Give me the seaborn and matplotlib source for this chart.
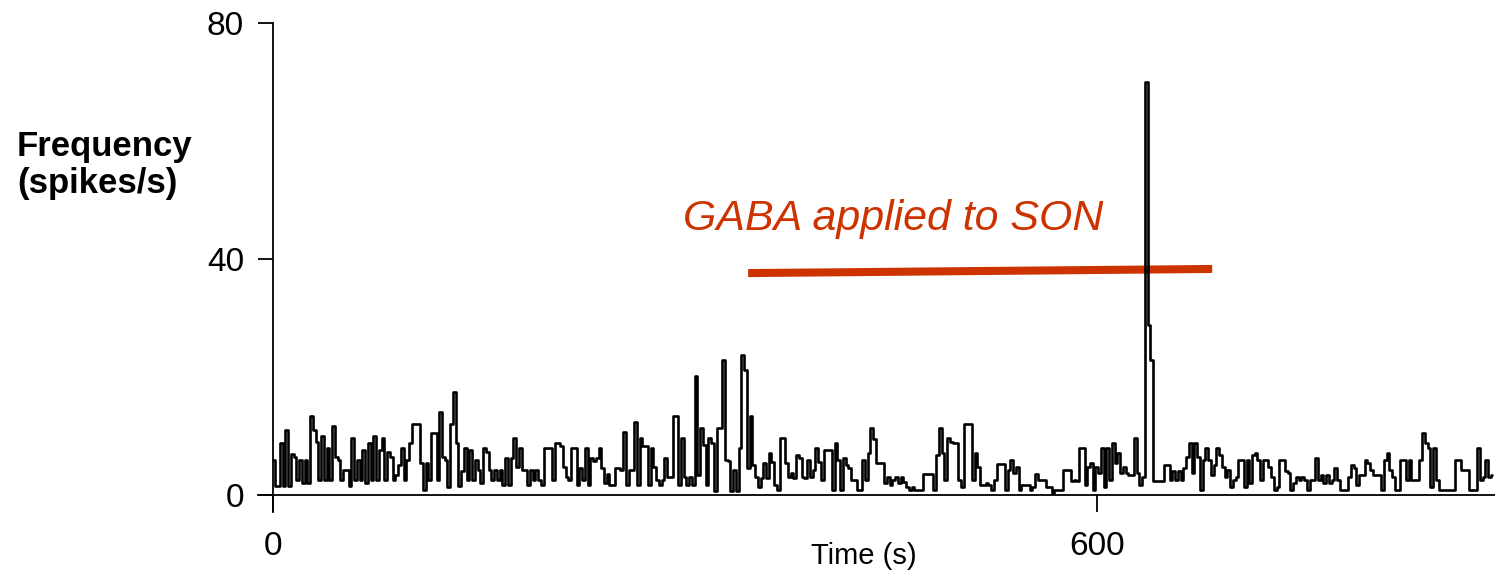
import numpy as np
import pandas as pd
import matplotlib
matplotlib.use("Agg")
import matplotlib.pyplot as plt
import seaborn as sns

# ---- data (spike frequency sampled every 2 s, t = 0 .. 888 s) ----
bin_width = 2
freq = [
    # 0-38
    6, 1.5, 1.5, 8.8, 1.5, 11, 1.5, 7, 6.5, 2.5, 6, 2, 6, 2, 13.3, 11, 9, 2.5, 9.9, 2.5,
    # 40-78
    8, 2.5, 11.7, 6.5, 6, 2.5, 4.2, 4.2, 1.5, 9.6, 2.5, 6, 2.5, 7.6, 2, 8.8, 2.5, 9.9, 2.5, 7.6,
    # 80-118
    9.6, 2.5, 7.3, 6.5, 2.5, 3.4, 5, 7.9, 2.5, 5.9, 8.8, 12.1, 12.1, 12.1, 5.4, 0.8, 5.4, 2.5, 10.5, 10.5,
    # 120-158
    2.5, 14, 6.5, 5.9, 1.4, 12, 17.5, 8.8, 1.5, 4, 7.9, 2.5, 7.6, 2.5, 5.9, 4.2, 2, 7.9, 7.3, 4.2,
    # 160-198
    2.5, 4.2, 2.5, 4.2, 1.7, 6.2, 1.7, 6.2, 9.6, 4.8, 7.9, 4.2, 4.2, 1.7, 4.2, 2.5, 4.2, 2.5, 1.7, 7.9,
    # 200-238
    7.9, 7.9, 2.5, 8.8, 8.8, 8.3, 4.8, 3, 2.5, 7.9, 7.9, 1.7, 4.5, 2.5, 7.9, 1.7, 6.2, 5.8, 6.2, 7.9,
    # 240-278
    4.5, 2, 3.5, 1.7, 1.7, 4.5, 4.5, 4.2, 10.6, 1.7, 4.2, 4.2, 12.3, 1.7, 9.6, 8.3, 8.3, 1.7, 7.9, 4.8,
    # 280-318
    2.5, 1.7, 2.5, 6.2, 3, 3, 13.3, 13.3, 1.7, 9.6, 3, 1.7, 3, 1.7, 20.2, 3.3, 11.4, 8.5, 1.7, 9.6,
    # 320-358
    8.8, 0.6, 11.4, 11.4, 22.8, 5.9, 5.7, 0.6, 4.2, 0.6, 7.9, 23.7, 21.2, 4.5, 13.3, 5, 3.1, 1.4, 2.8, 5.4,
    # 360-398
    2.8, 7.1, 5.5, 1.7, 0.85, 9.6, 9.6, 5.4, 3, 3.7, 2.8, 6.8, 6.2, 3, 2.8, 5.9, 3, 4.2, 7.9, 5.5,
    # 400-438
    2.5, 7.6, 7.6, 7.6, 0.85, 8.8, 5.9, 0.85, 6.2, 5.1, 4.5, 2.5, 2.5, 0.85, 0.85, 5.9, 2.5, 7.1, 11.3, 9.5,
    # 440-478
    5.4, 5.4, 5.4, 2, 3.1, 1.7, 2.5, 3.1, 2, 3.1, 2.2, 1.4, 0.85, 1.4, 0.85, 0.85, 0.85, 3.5, 3.5, 3.5,
    # 480-518
    3.5, 0.85, 6.8, 11.3, 7.1, 2.5, 9.6, 9, 8.8, 8.8, 2.5, 1.4, 12.1, 12.1, 12.1, 2.5, 7.1, 4.8, 1.7, 1.7,
    # 520-558
    2, 1.7, 0.85, 2.5, 5.3, 5.3, 5.3, 0.85, 4.2, 5.9, 3.7, 4.8, 0.85, 1.7, 1.7, 1.7, 0.85, 1.4, 3.6, 2.5,
    # 560-598
    2.5, 2.5, 1.4, 1.4, 0.3, 0.85, 0.85, 0.85, 4.3, 4.3, 4.3, 2.3, 2.5, 2.3, 7.9, 7.9, 1.7, 4.8, 5.4, 0.85,
    # 600-638
    4.8, 3.7, 7.9, 1.4, 7.9, 2.5, 8.8, 5.4, 7.1, 3.7, 4.8, 3.7, 3.4, 3.4, 9.6, 3.7, 1.7, 3.1, 70, 28.8,
    # 640-678
    22.9, 2.3, 2.3, 2.3, 2.3, 5.1, 5.1, 2.5, 4, 2.5, 4, 2.5, 4.5, 6.5, 8.8, 3.7, 8.8, 6.5, 0.85, 5.9,
    # 680-718
    7.9, 5.9, 3.4, 5, 7.9, 6.8, 4.8, 3.1, 4.2, 1.4, 2.5, 3.1, 5.9, 5.9, 1.4, 5.9, 2, 6.8, 7.1, 5.9,
    # 720-758
    2.5, 5.9, 5.9, 4.8, 3.1, 0.85, 1.4, 5.9, 5.9, 4, 3.7, 0.85, 2, 3.1, 2.5, 3.1, 2.5, 0.85, 2.5, 2.5,
    # 760-798
    6.2, 2.5, 3.4, 2, 3.4, 2, 2.5, 4.5, 2.5, 0.85, 0.85, 0.85, 3.1, 5.1, 4.5, 1.7, 3.4, 3.4, 5.9, 5.4,
    # 800-838
    4.2, 3.4, 3.4, 3.4, 0.85, 5.9, 7.1, 4.2, 3.1, 0.85, 0.85, 6, 6, 2.5, 6, 2.5, 2.5, 2.5, 6, 10.5,
    # 840-878
    8.8, 7.9, 1.4, 7.9, 2.5, 0.85, 0.85, 0.85, 0.85, 0.85, 0.85, 6, 6, 4.3, 4.3, 4.3, 0.85, 0.85, 0.85, 7.9,
    # 880-888
    2.5, 3.1, 6, 3.1, 3.4,
]
time_s = [i * bin_width for i in range(len(freq))]

# GABA application bar (start/end time, level)
gaba_time = [346, 684]
gaba_level = [37.6, 38.3]
gaba_label = "GABA applied to SON"

y_ticks = [0, 40, 80]
x_ticks = [0, 600]

df = pd.DataFrame({"Time (s)": time_s, "Frequency": freq})

sns.set_style("white")
plt.rcParams["font.family"] = ["Liberation Sans", "DejaVu Sans"]
plt.rcParams["text.color"] = "black"
plt.rcParams["xtick.color"] = "black"
plt.rcParams["ytick.color"] = "black"

fig = plt.figure(figsize=(14.95, 5.74), dpi=100)
ax = fig.add_axes([0.1726, 0.108, 0.8274, 0.852])

sns.lineplot(data=df, x="Time (s)", y="Frequency", ax=ax, color="black",
             linewidth=1.9, estimator=None, zorder=3, drawstyle="steps-mid")

ax.plot(gaba_time, gaba_level, color="#CC3300", linewidth=5.8,
        solid_capstyle="butt", zorder=2)
ax.text(298.5, 44.9, gaba_label, color="#CC3300", fontsize=30.9,
        fontstyle="italic", ha="left", va="baseline")

ax.set_xlim(-11, 890)
ax.set_ylim(-2.9, 80)

for s in ["top", "right"]:
    ax.spines[s].set_visible(False)
ax.spines["left"].set_position(("data", 0))
ax.spines["bottom"].set_position(("data", 0))
for s in ["left", "bottom"]:
    ax.spines[s].set_color("black")
    ax.spines[s].set_linewidth(1.3)

ax.set_yticks(y_ticks)
ax.set_xticks(x_ticks)
ax.set_yticklabels([str(v) for v in y_ticks], fontsize=24)
ax.set_xticklabels([str(v) for v in x_ticks], fontsize=24)
ax.tick_params(axis="y", direction="out", length=11, width=1.3, pad=10, left=True,
               colors="black")
ax.tick_params(axis="x", direction="out", length=12, width=1.3, pad=14, bottom=True,
               colors="black")

ax.set_xlabel("")
ax.set_ylabel("")
fig.text(864 / 1495, 1 - 556 / 574, "Time (s)", fontsize=21, ha="center", va="center",
         color="black")
fig.text(17 / 1495, 1 - 165 / 574, "Frequency\n(spikes/s)", fontsize=25,
         fontweight="bold", ha="left", va="center", linespacing=1.15, color="black")

fig.savefig("out.png", dpi=100)
